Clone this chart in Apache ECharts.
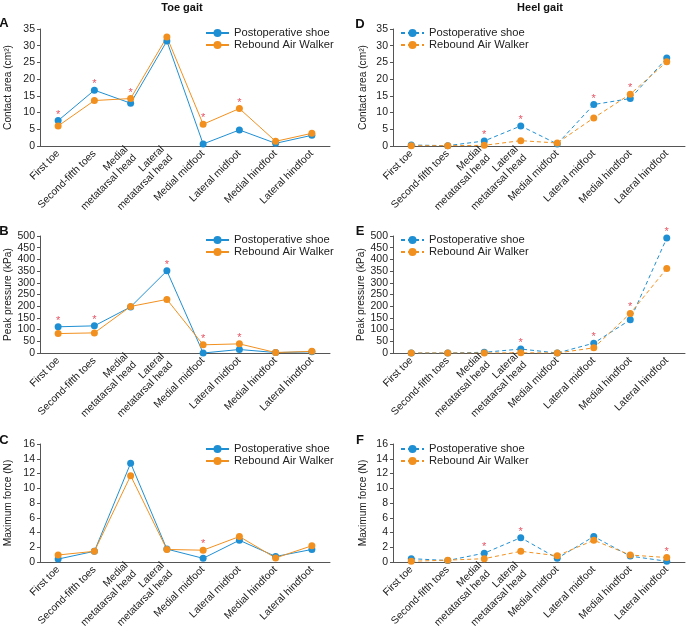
<!DOCTYPE html>
<html><head><meta charset="utf-8">
<script src="https://cdn.jsdelivr.net/npm/echarts@6/dist/echarts.min.js"></script>
<style>html,body{margin:0;padding:0;background:#fff}#c{width:686px;height:633px}</style>
</head><body><div id="c"></div>
<script>
const categories = ['First toe','Second-fifth toes','Medial\nmetatarsal head','Lateral\nmetatarsal head','Medial midfoot','Lateral midfoot','Medial hindfoot','Lateral hindfoot'];
const seriesNames = ['Postoperative shoe','Rebound Air Walker'];

// Toe gait
const toeAreaPost = [7.6, 16.7, 12.8, 31.4, 0.6, 4.8, 0.8, 3.2];
const toeAreaReb  = [6.0, 13.6, 14.2, 32.6, 6.5, 11.2, 1.4, 3.8];
const toeAreaStars = [0, 1, 2, 4, 5];
const toePressPost = [112, 116, 197, 351, 0, 15, 2, 5];
const toePressReb  = [83, 86, 199, 229, 35, 39, 2, 7];
const toePressStars = [0, 1, 3, 4, 5];
const toeForcePost = [0.4, 1.45, 13.4, 1.75, 0.5, 2.95, 0.75, 1.7];
const toeForceReb  = [0.95, 1.45, 11.7, 1.7, 1.6, 3.45, 0.55, 2.2];
const toeForceStars = [4];

// Heel gait
const heelAreaPost = [0.3, 0.1, 1.5, 6.0, 0.6, 12.4, 14.2, 26.3];
const heelAreaReb  = [0.1, 0.1, 0.2, 1.6, 0.9, 8.4, 15.5, 25.2];
const heelAreaStars = [2, 3, 5, 6];
const heelPressPost = [0, 0, 3, 17, 0, 42, 142, 491];
const heelPressReb  = [0, 0, 0, 1, 0, 22, 169, 361];
const heelPressStars = [3, 5, 6, 7];
const heelForcePost = [0.45, 0.2, 1.2, 3.3, 0.5, 3.45, 0.8, 0.1];
const heelForceReb  = [0.1, 0.25, 0.45, 1.45, 0.85, 2.95, 0.95, 0.6];
const heelForceStars = [2, 3, 7];

const areaTicks = {max: 35, interval: 5};
const pressTicks = {max: 500, interval: 50};
const forceTicks = {max: 16, interval: 2};

const BLUE = '#1f8fd3', ORANGE = '#f2901f', STAR = '#e0283c';

const panels = [
  {post: toeAreaPost, reb: toeAreaReb, stars: toeAreaStars, ticks: areaTicks, yname: 'Contact area (cm\u00B2)', dashed: false, grid: {left: 40, top: 29, width: 290, height: 117}, legend: {left: 205, top: 27}, nameGap: 27},
  {post: toePressPost, reb: toePressReb, stars: toePressStars, ticks: pressTicks, yname: 'Peak pressure (kPa)', dashed: false, grid: {left: 40, top: 236, width: 290, height: 117}, legend: {left: 205, top: 234}, nameGap: 27},
  {post: toeForcePost, reb: toeForceReb, stars: toeForceStars, ticks: forceTicks, yname: 'Maximum force (N)', dashed: false, grid: {left: 40, top: 444, width: 290, height: 118}, legend: {left: 205, top: 443}, nameGap: 27},
  {post: heelAreaPost, reb: heelAreaReb, stars: heelAreaStars, ticks: areaTicks, yname: 'Contact area (cm\u00B2)', dashed: true, grid: {left: 393, top: 29, width: 292, height: 117}, legend: {left: 400, top: 27}, nameGap: 25},
  {post: heelPressPost, reb: heelPressReb, stars: heelPressStars, ticks: pressTicks, yname: 'Peak pressure (kPa)', dashed: true, grid: {left: 393, top: 236, width: 292, height: 117}, legend: {left: 400, top: 234}, nameGap: 25},
  {post: heelForcePost, reb: heelForceReb, stars: heelForceStars, ticks: forceTicks, yname: 'Maximum force (N)', dashed: true, grid: {left: 393, top: 444, width: 292, height: 118}, legend: {left: 400, top: 443}, nameGap: 25}
];

const FONT = 'Liberation Sans, Arial, sans-serif';
const option = {
  animation: false,
  textStyle: {fontFamily: FONT},
  grid: [], xAxis: [], yAxis: [], series: [], legend: [],
  graphic: []
};

panels.forEach((p, i) => {
  const tag = p.dashed ? ' (heel)' : '';
  option.grid.push(p.grid);
  option.xAxis.push({
    type: 'category', gridIndex: i, data: categories, boundaryGap: true,
    axisLine: {lineStyle: {color: '#555', width: 1}},
    axisTick: {alignWithLabel: true, length: 4, lineStyle: {color: '#555'}},
    axisLabel: {rotate: 45, interval: 0, fontSize: 10.3, color: '#222', margin: 6, lineHeight: 12, fontFamily: FONT}
  });
  option.yAxis.push({
    type: 'value', gridIndex: i, min: 0, max: p.ticks.max, interval: p.ticks.interval,
    name: p.yname, nameLocation: 'middle', nameGap: p.nameGap,
    nameTextStyle: {fontSize: 10.2, color: '#222', fontFamily: FONT},
    axisLine: {show: true, lineStyle: {color: '#555', width: 1}},
    axisTick: {show: true, length: 3, lineStyle: {color: '#555'}},
    axisLabel: {fontSize: 10.5, color: '#222', margin: 5, fontFamily: FONT},
    splitLine: {show: false}
  });
  const mk = (name, data, color) => ({
    type: 'line', name: name + tag, xAxisIndex: i, yAxisIndex: i, data: data,
    symbol: 'circle', symbolSize: 7, showSymbol: true,
    lineStyle: {color: color, width: 1, type: p.dashed ? [4, 3] : 'solid'},
    itemStyle: {color: color}
  });
  option.series.push(mk(seriesNames[0], p.post, BLUE));
  option.series.push(mk(seriesNames[1], p.reb, ORANGE));
  option.series.push({
    type: 'scatter', xAxisIndex: i, yAxisIndex: i, symbolSize: 1, clip: false,
    itemStyle: {color: 'rgba(0,0,0,0)'},
    data: p.stars.map(k => [k, Math.max(p.post[k], p.reb[k])]),
    label: {show: true, formatter: '*', position: 'inside', offset: [0, -6], color: STAR, fontSize: 11, fontFamily: FONT},
    silent: true, z: 5
  });
  option.legend.push({
    left: p.legend.left, top: p.legend.top, orient: 'vertical', padding: 0, itemGap: 0,
    itemWidth: 23, itemHeight: 10,
    data: seriesNames.map(n => n + tag),
    formatter: n => n.replace(' (heel)', ''),
    textStyle: {fontSize: 11.2, color: '#222', lineHeight: 12, fontFamily: FONT, padding: [0, 0, 0, 0]},
    selectedMode: false
  });
});

const letters = [['A', 4, 23], ['B', 4, 231], ['C', 4, 440], ['D', 360, 24], ['E', 360, 231], ['F', 360, 440]];
letters.forEach(([t, x, y]) => option.graphic.push({type: 'text', x: x, y: y, style: {text: t, font: 'bold 13px ' + FONT, fill: '#111', textAlign: 'center', textVerticalAlign: 'middle'}}));
[['Toe gait', 182, 8], ['Heel gait', 540, 8]].forEach(([t, x, y]) => option.graphic.push({type: 'text', x: x, y: y, style: {text: t, font: 'bold 11px ' + FONT, fill: '#111', textAlign: 'center', textVerticalAlign: 'middle'}}));

const chart = echarts.init(document.getElementById('c'));
chart.setOption(option);
</script>
</body></html>
